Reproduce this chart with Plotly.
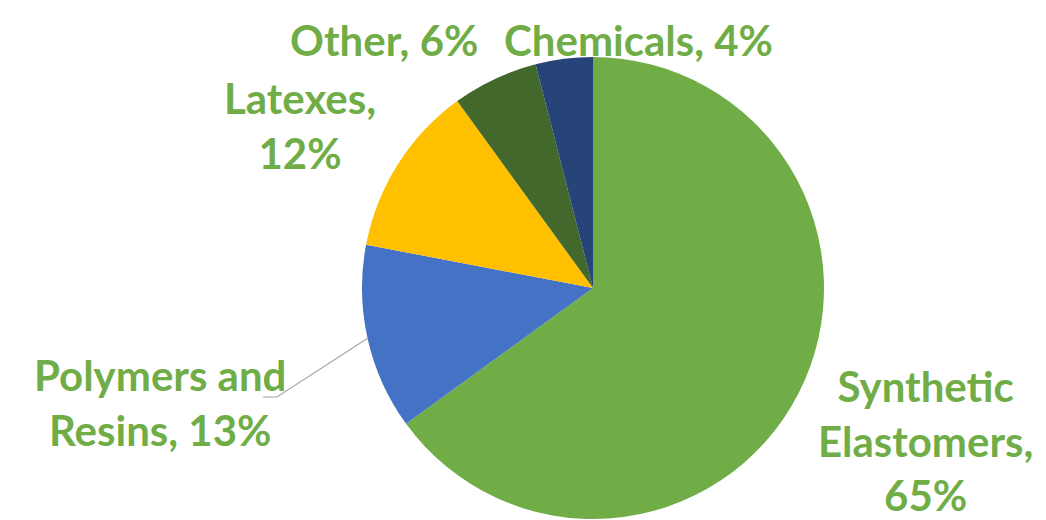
import plotly.graph_objects as go

categories = ["Synthetic Elastomers", "Polymers and Resins", "Latexes", "Other", "Chemicals"]
values = [65, 13, 12, 6, 4]
colors = ["#70AD47", "#4472C4", "#FFC000", "#43682B", "#264478"]

W, H = 1046, 520
cx, cy, r = 593, 288, 231

fig = go.Figure(go.Pie(
    labels=categories, values=values, sort=False, direction="clockwise", rotation=0,
    marker=dict(colors=colors, line=dict(width=0)),
    textinfo="none", hoverinfo="label+percent", showlegend=False,
    domain=dict(x=[(cx - r) / W, (cx + r) / W], y=[1 - (cy + r) / H, 1 - (cy - r) / H]),
))

# label positions in pixels (center x, center y, text before percent, separator)
label_pos = {
    "Synthetic Elastomers": (925, 440, "Synthetic<br>Elastomers,", "<br>"),
    "Polymers and Resins": (160, 402, "Polymers and<br>Resins,", " "),
    "Latexes": (300, 125, "Latexes,", "<br>"),
    "Other": (384, 40, "Other,", " "),
    "Chemicals": (638, 40, "Chemicals,", " "),
}
tot = sum(values)
for cat, v in zip(categories, values):
    x, y, txt, sep = label_pos[cat]
    pct = round(100 * v / tot)
    fig.add_annotation(
        x=x / W, y=1 - y / H, xref="paper", yref="paper",
        text=f"<b>{txt}{sep}{pct}%</b>", showarrow=False, align="center",
        font=dict(family="Lato", size=42, color="#70AD47"),
        xanchor="center", yanchor="middle",
    )

# leader line for Polymers and Resins
pts = [(368, 338), (277, 397), (263, 397)]
path = "M " + " L ".join(f"{px / W},{1 - py / H}" for px, py in pts)
fig.add_shape(type="path", path=path, xref="paper", yref="paper",
              line=dict(color="#A6A6A6", width=1.2))

fig.update_layout(width=W, height=H, margin=dict(l=0, r=0, t=0, b=0),
                  paper_bgcolor="white", plot_bgcolor="white")
fig.write_html("out.html", config={"displayModeBar": False},
               post_script="document.body.style.margin='0';")
